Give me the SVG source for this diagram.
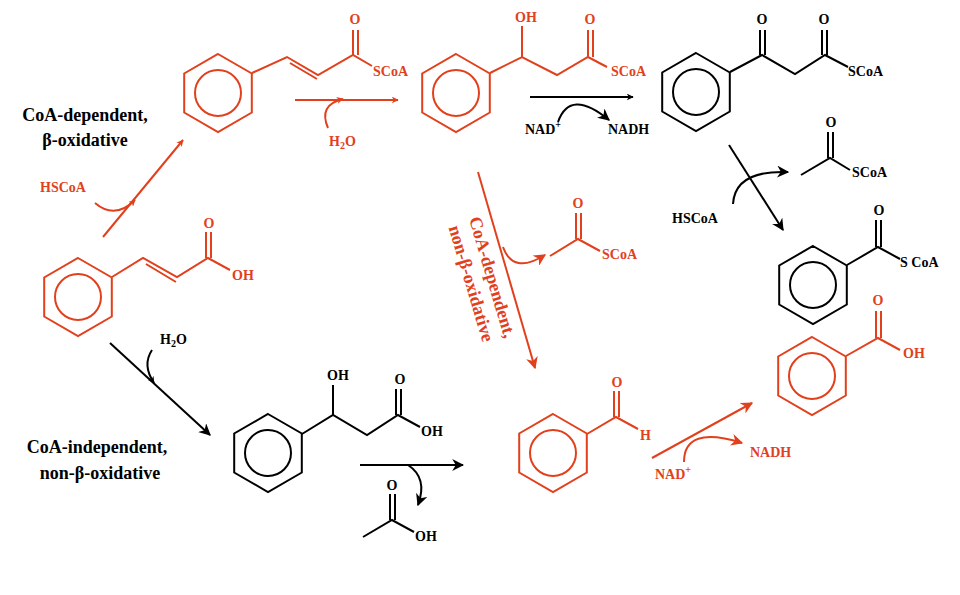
<svg xmlns="http://www.w3.org/2000/svg" xmlns:xlink="http://www.w3.org/1999/xlink" width="960" height="595" viewBox="0 0 960 595">
<style>
.r{stroke:#e2401c;fill:none;stroke-width:2}
.k{stroke:#000;fill:none;stroke-width:2}
text{font-family:"Liberation Serif",serif;font-weight:bold}
.tr{fill:#e2401c;font-size:14px}
.tk{fill:#000;font-size:14px}
.lab{fill:#000;font-size:18px}
.labr{fill:#e2401c;font-size:18px}
</style>
<defs>
<g id="ring"><path d="M0,-39 L33.8,-19.5 L33.8,19.5 L0,39 L-33.8,19.5 L-33.8,-19.5Z"/><circle r="23"/></g>
<marker id="ar" viewBox="0 0 10 10" refX="9" refY="5" markerWidth="7" markerHeight="7" orient="auto" markerUnits="userSpaceOnUse"><path d="M0,0 L10,5 L0,10 L3,5Z" fill="#e2401c"/></marker>
<marker id="ak" viewBox="0 0 10 10" refX="9" refY="5" markerWidth="7" markerHeight="7" orient="auto" markerUnits="userSpaceOnUse"><path d="M0,0 L10,5 L0,10 L3,5Z" fill="#000"/></marker>
<marker id="arL" viewBox="0 0 10 10" refX="9" refY="5" markerWidth="12" markerHeight="12" orient="auto" markerUnits="userSpaceOnUse"><path d="M0,0 L10,5 L0,10 L3,5Z" fill="#e2401c"/></marker>
<marker id="akL" viewBox="0 0 10 10" refX="9" refY="5" markerWidth="12" markerHeight="12" orient="auto" markerUnits="userSpaceOnUse"><path d="M0,0 L10,5 L0,10 L3,5Z" fill="#000"/></marker>
</defs>

<g id="cinnamoylCoA" class="r">
<use xlink:href="#ring" x="218" y="93"/>
<path d="M252,73 L287,57 L318,75 L353,55 L372,66 M290,63 L317,79 M353,55 L353,30 M358,55 L358,30"/>
<text class="tr" x="355" y="24" text-anchor="middle" stroke="none">O</text>
<text class="tr" x="373" y="76" stroke="none">SCoA</text>
</g>

<g id="hydroxyCoA" class="r">
<use xlink:href="#ring" x="456" y="93"/>
<path d="M490,73 L522,57 L557,75 L588,57 L607,67 M522,57 L522,26 M588,57 L588,30 M593,57 L593,30"/>
<text class="tr" x="526" y="22" text-anchor="middle" stroke="none">OH</text>
<text class="tr" x="590" y="24" text-anchor="middle" stroke="none">O</text>
<text class="tr" x="611" y="76" stroke="none">SCoA</text>
</g>

<g id="oxoCoA" class="k">
<use xlink:href="#ring" x="696" y="92"/>
<path d="M730,72 L762,55 L795,74 L825,55 L848,67 M760,55 L760,30 M765,55 L765,30 M822,55 L822,30 M827,55 L827,30"/>
<text class="tk" x="762" y="24" text-anchor="middle" stroke="none">O</text>
<text class="tk" x="824" y="24" text-anchor="middle" stroke="none">O</text>
<text class="tk" x="848" y="76" stroke="none">SCoA</text>
</g>

<g id="acetylCoA1" class="k">
<path d="M801,175 L830,158 L850,170 M828,158 L828,132 M833,158 L833,132"/>
<text class="tk" x="831" y="127" text-anchor="middle" stroke="none">O</text>
<text class="tk" x="852" y="177" stroke="none">SCoA</text>
</g>

<g id="benzoylCoA" class="k">
<use xlink:href="#ring" x="813" y="285"/>
<path d="M847,265 L878,247 L900,259 M876,247 L876,220 M881,247 L881,220"/>
<text class="tk" x="879" y="215" text-anchor="middle" stroke="none">O</text>
<text class="tk" x="900" y="267" stroke="none">S CoA</text>
</g>

<g id="benzoicAcid" class="r">
<use xlink:href="#ring" x="812" y="376"/>
<path d="M846,356 L878,338 L900,350 M876,338 L876,311 M881,338 L881,311"/>
<text class="tr" x="878" y="305" text-anchor="middle" stroke="none">O</text>
<text class="tr" x="903" y="358" stroke="none">OH</text>
</g>

<g id="cinnamicAcid" class="r">
<use xlink:href="#ring" x="78" y="297"/>
<path d="M112,277 L143,258 L177,277 L208,258 L230,270 M146,264 L176,282 M206,258 L206,232 M211,258 L211,232"/>
<text class="tr" x="209" y="228" text-anchor="middle" stroke="none">O</text>
<text class="tr" x="232" y="280" stroke="none">OH</text>
</g>

<g id="hydroxyAcid" class="k">
<use xlink:href="#ring" x="268" y="453"/>
<path d="M302,434 L333,415 L367,435 L398,415 L420,427 M333,415 L333,385 M396,415 L396,389 M401,415 L401,389"/>
<text class="tk" x="338" y="380" text-anchor="middle" stroke="none">OH</text>
<text class="tk" x="400" y="384" text-anchor="middle" stroke="none">O</text>
<text class="tk" x="421" y="436" stroke="none">OH</text>
</g>

<g id="aceticAcid" class="k">
<path d="M363,537 L392,520 L414,532 M390,520 L390,494 M395,520 L395,494"/>
<text class="tk" x="392" y="490" text-anchor="middle" stroke="none">O</text>
<text class="tk" x="415" y="541" stroke="none">OH</text>
</g>

<g id="acetylCoA2" class="r">
<path d="M550,256 L578,239 L600,251 M576,239 L576,213 M581,239 L581,213"/>
<text class="tr" x="578" y="208" text-anchor="middle" stroke="none">O</text>
<text class="tr" x="602" y="259" stroke="none">SCoA</text>
</g>

<g id="benzaldehyde" class="r">
<use xlink:href="#ring" x="553" y="453"/>
<path d="M587,434 L616,417 L638,429 M614,417 L614,391 M619,417 L619,391"/>
<text class="tr" x="617" y="387" text-anchor="middle" stroke="none">O</text>
<text class="tr" x="640" y="440" stroke="none">H</text>
</g>

<g id="connectors">
<path class="r" d="M103,237 L183,140" marker-end="url(#ar)"/>
<path class="r" d="M95,203 Q115,220 135,200" marker-end="url(#ar)"/>
<path class="r" d="M295,100 L398,100" marker-end="url(#ar)"/>
<path class="r" d="M328,128 Q318,105 343,99" marker-end="url(#ar)"/>
<path class="k" d="M530,97 L633,97" marker-end="url(#ak)"/>
<path class="k" d="M558,122 Q570,88 609,120" marker-end="url(#akL)"/>
<path class="k" d="M729,145 L783,230" marker-end="url(#akL)"/>
<path class="k" d="M733,204 Q735,170 788,172" marker-end="url(#akL)"/>
<path class="r" d="M478,172 L535,368" marker-end="url(#arL)"/>
<path class="r" d="M503,247 Q513,275 545,255" marker-end="url(#arL)"/>
<path class="k" d="M110,343 L210,435" marker-end="url(#akL)"/>
<path class="k" d="M152,350 Q142,365 154,383" marker-end="url(#ak)"/>
<path class="k" d="M360,465 L463,465" marker-end="url(#akL)"/>
<path class="k" d="M408,465 Q428,478 418,505" marker-end="url(#akL)"/>
<path class="r" d="M652,458 L752,403" marker-end="url(#arL)"/>
<path class="r" d="M684,462 Q684,425 742,443" marker-end="url(#arL)"/>
</g>

<g id="labels">
<text class="tr" x="40" y="192">HSCoA</text>
<text class="tr" x="329" y="146">H<tspan font-size="10" dy="3">2</tspan><tspan dy="-3">O</tspan></text>
<text class="tk" x="525" y="134">NAD<tspan font-size="10" dy="-6">+</tspan></text>
<text class="tk" x="608" y="134">NADH</text>
<text class="tk" x="672" y="223">HSCoA</text>
<text class="tk" x="160" y="344">H<tspan font-size="10" dy="3">2</tspan><tspan dy="-3">O</tspan></text>
<text class="tr" x="655" y="479">NAD<tspan font-size="10" dy="-6">+</tspan></text>
<text class="tr" x="750" y="457">NADH</text>
<text class="lab" x="85" y="121" text-anchor="middle">CoA-dependent,</text>
<text class="lab" x="85" y="146" text-anchor="middle">β-oxidative</text>
<text class="lab" x="97" y="453" text-anchor="middle">CoA-independent,</text>
<text class="lab" x="100" y="479" text-anchor="middle">non-β-oxidative</text>
<g transform="translate(480,281) rotate(73.5)">
<text class="labr" x="0" y="-7" text-anchor="middle">CoA-dependent,</text>
<text class="labr" x="0" y="15" text-anchor="middle">non-β-oxidative</text>
</g>
</g>
</svg>
